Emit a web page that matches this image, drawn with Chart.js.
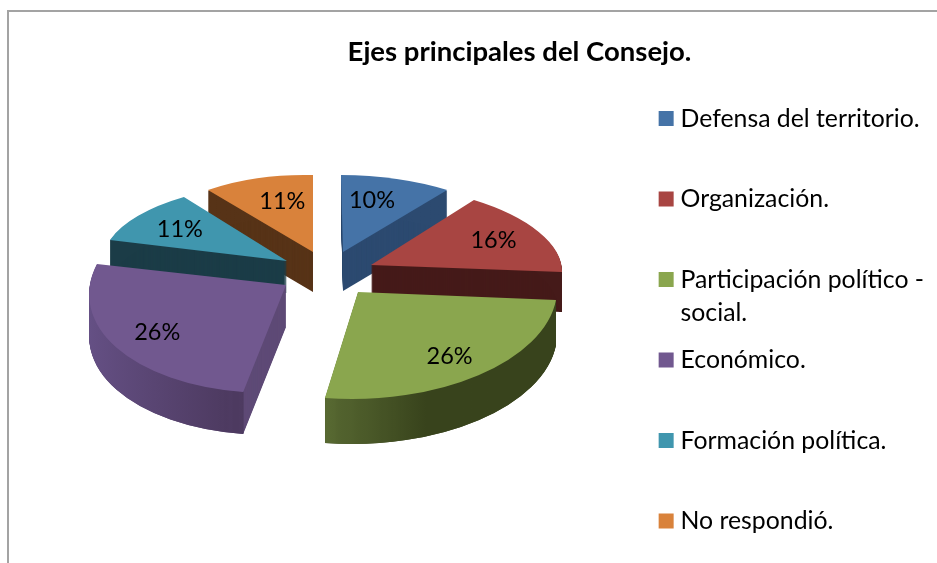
<!DOCTYPE html>
<html><head><meta charset="utf-8">
<style>html,body{margin:0;padding:0;background:#fff;overflow:hidden;width:937px;height:563px}canvas{display:block}</style>
<script src="https://cdn.jsdelivr.net/npm/chart.js@4/dist/chart.umd.js"></script>
</head><body><canvas id="c" width="937" height="620" style="width:937px;height:620px"></canvas>
<script>
const chartTitle = 'Ejes principales del Consejo.';
const categories = ['Defensa del territorio.','Organización.','Participación político -','Económico.','Formación política.','No respondió.'];
const categoryExtraLine = {2:'social.'};
const values = [10,16,26,26,11,11];

const topColors  = ['#4573a7','#a84542','#8aa64e','#71588f','#4096ae','#d9823b'];
const wallColors = ['#2c4a70','#451a19','#3a451e','#5e4a76','#1b3c47','#573317'];
// outer rim shading: [from, to, colorFrom, colorTo] with from/to as fractions of the radius
const rimShades = [
  [-1,1,'#2c4a70','#2c4a70'],[-1,1,'#451a19','#451a19'],
  [-0.17,0.38,'#5b6d34','#38431c'],[-1,-0.2,'#655085','#4d3a60'],
  [-1,1,'#1b3c47','#1b3c47'],[-1,1,'#573317','#573317']];
// per-slice perspective matrices (a,b,c,d,e,f) taking the library's circular arc to the tilted view
const perspective = [
  [180,0.5,2,77,343,252],
  [190.7,1.85,11.3,81.7,371,265],
  [198.9,1.26,-8.2,107,358,292],
  [196,0.8,-18.4,108,286,285],
  [183.7,6.67,-18.2,77.5,287,261],
  [164.8,4.1,0,77,313,252]];
const wallDepth = [39,40,45,42,32,40];
const paintOrder = [5,0,4,1,3,2];
const labelSpreadX = [0.54,0.73,0.76,0.76,0.72,0.55];
const labelSpreadY = [0.70,0.75,0.77,0.75,0.70,0.69];

const pie3d = {
  id:'pie3d',
  beforeDraw(chart){
    const {ctx,width} = chart;
    ctx.save();
    ctx.fillStyle='#fff';ctx.fillRect(0,0,width,chart.height);
    ctx.strokeStyle='#a3a3a3';ctx.lineWidth=2;
    ctx.beginPath();ctx.moveTo(8,chart.height);ctx.lineTo(8,11);ctx.lineTo(width,11);ctx.stroke();
    ctx.restore();
  },
  beforeDatasetDraw(chart){
    const ctx = chart.ctx, arcs = chart.getDatasetMeta(0).data;
    const place = (i,arc,dy)=>{
      const R = arc.outerRadius, m = perspective[i];
      ctx.translate(0,dy);
      ctx.transform(m[0]/R,m[1]/R,m[2]/R,m[3]/R,m[4],m[5]);
      ctx.translate(-arc.x,-arc.y);
    };
    paintOrder.forEach(i=>{
      const arc = arcs[i], R = arc.outerRadius, s = rimShades[i];
      const wall = Object.create(arc);
      wall.options = Object.assign({},arc.options,{backgroundColor:wallColors[i],borderWidth:0});
      for(let d=wallDepth[i];d>=1;d--){ctx.save();place(i,arc,d);wall.draw(ctx);ctx.restore();}
      const g = ctx.createLinearGradient(arc.x+s[0]*R,0,arc.x+s[1]*R,0);
      g.addColorStop(0,s[2]);g.addColorStop(1,s[3]);
      const rim = Object.create(arc);
      rim.innerRadius = R*0.985;
      rim.options = Object.assign({},arc.options,{backgroundColor:g,borderWidth:0});
      for(let d=wallDepth[i];d>=1;d--){ctx.save();place(i,arc,d);rim.draw(ctx);ctx.restore();}
      ctx.save();place(i,arc,0);arc.draw(ctx);ctx.restore();
    });
    return false;
  },
  afterDraw(chart){
    const ctx = chart.ctx, arcs = chart.getDatasetMeta(0).data;
    ctx.save();
    ctx.fillStyle='#000';ctx.textAlign='center';ctx.textBaseline='middle';
    ctx.font='23.5px Lato';
    arcs.forEach((arc,i)=>{
      const mid=(arc.startAngle+arc.endAngle)/2, m=perspective[i];
      const cx=Math.cos(mid), sy=Math.sin(mid);
      const x=m[0]*cx*labelSpreadX[i]+m[2]*sy*labelSpreadX[i]+m[4];
      const y=m[1]*cx*labelSpreadY[i]+m[3]*sy*labelSpreadY[i]+m[5];
      ctx.fillText(values[i]+'%',x,y);
    });
    const boxes = chart.legend.legendHitBoxes;
    ctx.textAlign='left';ctx.font='24.8px Lato';
    Object.keys(categoryExtraLine).forEach(k=>{
      const b=boxes[k];
      ctx.fillText(categoryExtraLine[k],b.left+16.4,b.top+b.height/2+33);
    });
    ctx.restore();
  }
};

new Chart(document.getElementById('c'),{
  type:'pie',
  data:{labels:categories,datasets:[{data:values,backgroundColor:topColors,borderWidth:0}]},
  plugins:[pie3d],
  options:{
    responsive:false,animation:false,
    layout:{padding:{left:105,right:3}},
    plugins:{
      tooltip:{enabled:false},
      title:{display:true,text:chartTitle,color:'#000',align:'center',
        font:{family:'Lato',size:27.5,weight:'bold',lineHeight:1},
        padding:{top:38,bottom:-15}},
      legend:{position:'right',align:'start',fullSize:false,
        labels:{color:'#000',font:{family:'Lato',size:24.8},padding:55.7,boxWidth:4,boxHeight:15,usePointStyle:true,
          generateLabels(chart){
            return categories.map((t,i)=>({text:t,fillStyle:topColors[i],strokeStyle:topColors[i],lineWidth:0,pointStyle:'rect',index:i,hidden:false}));
          }}}
    }
  }
});
</script></body></html>
